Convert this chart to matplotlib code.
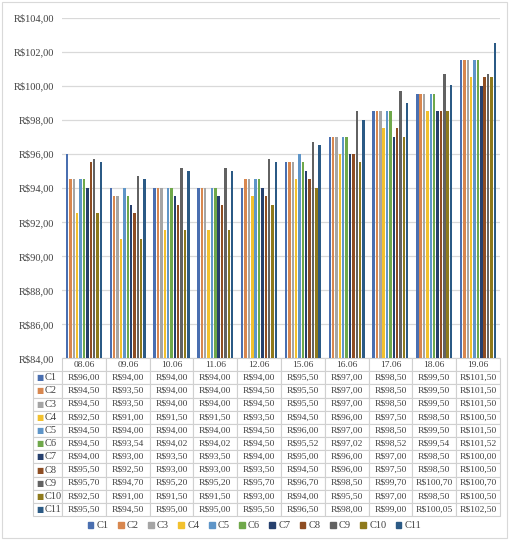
import matplotlib
matplotlib.use("Agg")
import matplotlib.pyplot as plt
import matplotlib.patches as mpatches
from matplotlib.ticker import FuncFormatter, MultipleLocator
import numpy as np

plt.rcParams['font.family'] = ['Liberation Serif', 'DejaVu Serif']

dates = ["08.06", "09.06", "10.06", "11.06", "12.06", "15.06", "16.06", "17.06", "18.06", "19.06"]
series = ["C1", "C2", "C3", "C4", "C5", "C6", "C7", "C8", "C9", "C10", "C11"]

c1 = [96.00, 94.00, 94.00, 94.00, 94.00, 95.50, 97.00, 98.50, 99.50, 101.50]
c2 = [94.50, 93.50, 94.00, 94.00, 94.50, 95.50, 97.00, 98.50, 99.50, 101.50]
c3 = [94.50, 93.50, 94.00, 94.00, 94.50, 95.50, 97.00, 98.50, 99.50, 101.50]
c4 = [92.50, 91.00, 91.50, 91.50, 93.50, 94.50, 96.00, 97.50, 98.50, 100.50]
c5 = [94.50, 94.00, 94.00, 94.00, 94.50, 96.00, 97.00, 98.50, 99.50, 101.50]
c6 = [94.50, 93.54, 94.02, 94.02, 94.50, 95.52, 97.02, 98.52, 99.54, 101.52]
c7 = [94.00, 93.00, 93.50, 93.50, 94.00, 95.00, 96.00, 97.00, 98.50, 100.00]
c8 = [95.50, 92.50, 93.00, 93.00, 93.50, 94.50, 96.00, 97.50, 98.50, 100.50]
c9 = [95.70, 94.70, 95.20, 95.20, 95.70, 96.70, 98.50, 99.70, 100.70, 100.70]
c10 = [92.50, 91.00, 91.50, 91.50, 93.00, 94.00, 95.50, 97.00, 98.50, 100.50]
c11 = [95.50, 94.50, 95.00, 95.00, 95.50, 96.50, 98.00, 99.00, 100.05, 102.50]
values = [c1, c2, c3, c4, c5, c6, c7, c8, c9, c10, c11]

colors = ["#4a6fb0", "#d8874f", "#a5a5a5", "#f2c12e", "#5e95c8", "#6fa84a",
          "#26406e", "#8e4d22", "#626262", "#8f7a1c", "#2b5a85"]


def brl(v, pos=None):
    return "R\\$" + ("%.2f" % v).replace(".", ",")


fig = plt.figure(figsize=(5.09, 5.40), dpi=100)
ax = fig.add_axes([0.122, 0.337, 0.860, 0.630])

x = np.arange(len(dates))
slot = 0.077
for i, vals in enumerate(values):
    ax.bar(x + (i - 5) * slot, np.array(vals) - 84, bottom=84, width=slot * 0.72,
           color=colors[i], label=series[i], zorder=3)

ax.set_xlim(-0.5, len(dates) - 0.5)
ax.set_ylim(84, 104)
ax.yaxis.set_major_locator(MultipleLocator(2))
ax.yaxis.set_major_formatter(FuncFormatter(brl))
ax.grid(axis="y", color="#d9d9d9", linewidth=0.9, zorder=0)
ax.set_xticks([])
ax.tick_params(axis="y", length=0, labelsize=7.5, labelcolor="#404040", pad=6)
for s in ax.spines.values():
    s.set_visible(False)

# data table under the plot
label_w = 0.066
cell_text = []
for i, vals in enumerate(values):
    cell_text.append([""] + [brl(v) for v in vals])
tbl = ax.table(cellText=cell_text, colLabels=[""] + dates,
               colWidths=[label_w] + [0.1] * len(dates),
               bbox=[-label_w, -0.465, 1 + label_w, 0.465], cellLoc="center")
tbl.auto_set_font_size(False)
tbl.set_fontsize(6.8)
for (r, c), cell in tbl.get_celld().items():
    cell.set_edgecolor("#d0d0d0")
    cell.set_linewidth(0.8)
    cell.get_text().set_color("#404040")
tbl[(0, 0)].set_edgecolor("none")

row_h = 0.465 / 12
for i, name in enumerate(series):
    yc = -0.465 + (10 - i + 0.5) * row_h
    ax.text(-label_w + 0.008, yc, "\u25a0", color=colors[i], fontsize=5.5,
            family="DejaVu Sans", va="center", ha="left", transform=ax.transAxes)
    ax.text(-label_w + 0.025, yc, name, color="#404040", fontsize=7.5,
            va="center", ha="left", transform=ax.transAxes)

handles = [mpatches.Patch(color=colors[i], label=series[i]) for i in range(len(series))]
fig.legend(handles=handles, loc="center", bbox_to_anchor=(0.5, 0.026), ncol=11,
           frameon=False, fontsize=7.5, handlelength=0.55, handleheight=0.55,
           handletextpad=0.3, columnspacing=0.9, labelcolor="#404040")

fig.add_artist(mpatches.Rectangle((0.004, 0.004), 0.992, 0.992, transform=fig.transFigure,
                                  fill=False, edgecolor="#d9d9d9", linewidth=0.8))

fig.savefig("out.png", dpi=100)
